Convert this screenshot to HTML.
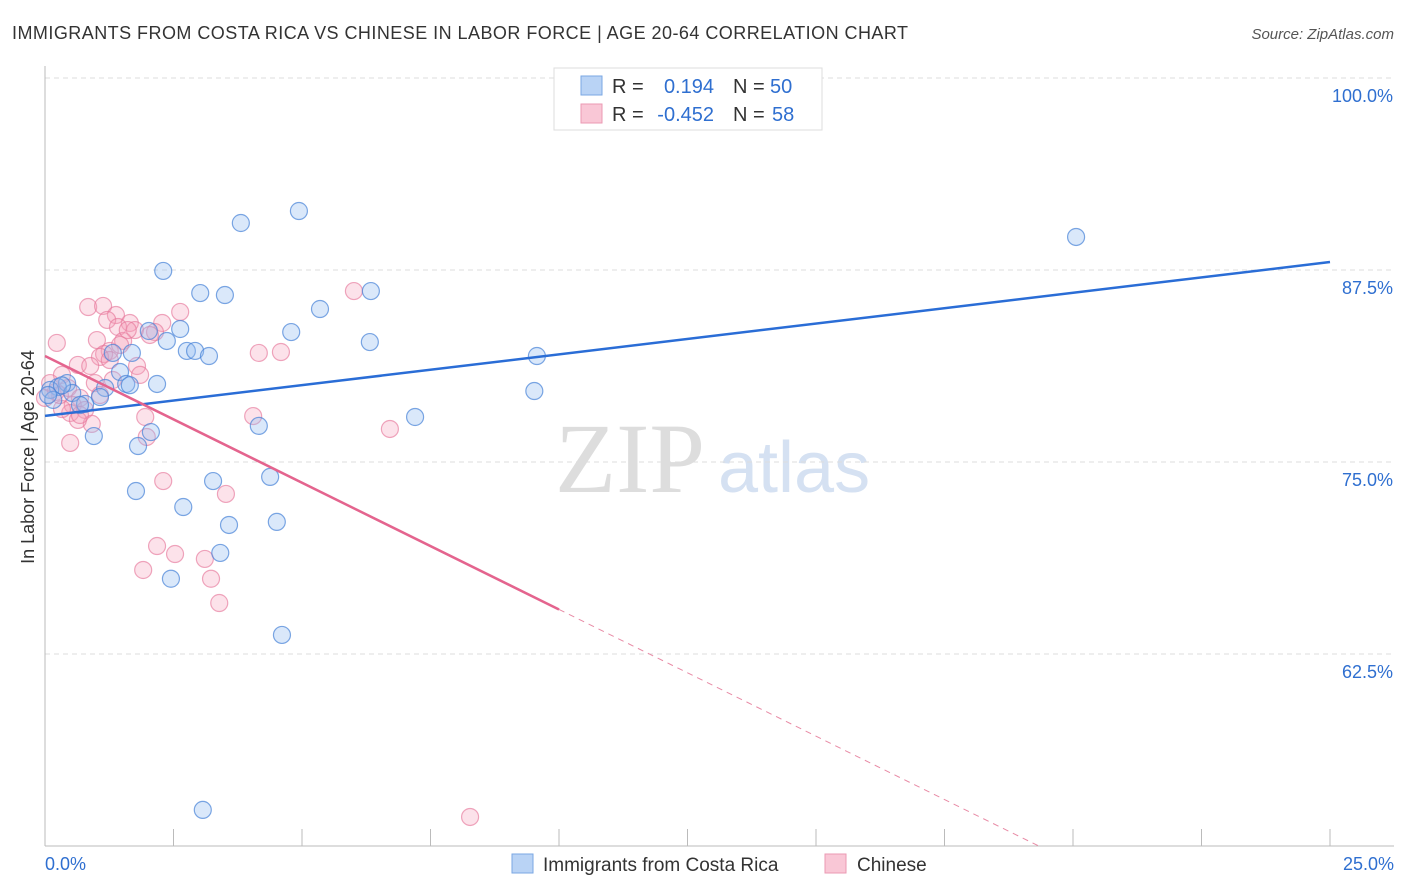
<!DOCTYPE html>
<html><head><meta charset="utf-8"><style>
body{margin:0;background:#fff;font-family:"Liberation Sans",sans-serif;}
svg{display:block}
</style></head><body>
<svg id="chart" width="1406" height="892">
<text x="12" y="39" font-size="18" fill="#333" textLength="896" lengthAdjust="spacing">IMMIGRANTS FROM COSTA RICA VS CHINESE IN LABOR FORCE | AGE 20-64 CORRELATION CHART</text>
<text x="1394" y="39" font-size="15" fill="#555" font-style="italic" text-anchor="end">Source: ZipAtlas.com</text>
<text x="555" y="492" font-size="100" fill="#ddd" font-family="Liberation Serif,serif">ZIP</text>
<text x="718" y="492" font-size="72" fill="#d5e1f2">atlas</text>
<g id="grid"></g><g id="axes"></g><g id="marks"></g>
<g>
<rect x="554" y="68" width="268" height="62" fill="#fff" stroke="#ddd"/>
<rect x="581" y="76" width="21" height="19" fill="#b9d3f5" stroke="#7aa7e3"/>
<rect x="581" y="104" width="21" height="19" fill="#f9c7d6" stroke="#eb9ab3"/>
<text x="612" y="93" font-size="20" fill="#333">R = </text><text x="714" y="93" font-size="20" fill="#2f6fd0" text-anchor="end">0.194</text>
<text x="733" y="93" font-size="20" fill="#333">N = </text><text x="770" y="93" font-size="20" fill="#2f6fd0">50</text>
<text x="612" y="121" font-size="20" fill="#333">R = </text><text x="714" y="121" font-size="20" fill="#2f6fd0" text-anchor="end">-0.452</text>
<text x="733" y="121" font-size="20" fill="#333">N = </text><text x="772" y="121" font-size="20" fill="#2f6fd0">58</text>
</g>
<g>
<rect x="512" y="854" width="21" height="19" fill="#b9d3f5" stroke="#7aa7e3"/>
<text x="543" y="871" font-size="19" fill="#333">Immigrants from Costa Rica</text>
<rect x="825" y="854" width="21" height="19" fill="#f9c7d6" stroke="#eb9ab3"/>
<text x="857" y="871" font-size="19" fill="#333">Chinese</text>
</g>
<text transform="translate(34,457) rotate(-90)" font-size="18" fill="#333" text-anchor="middle">In Labor Force | Age 20-64</text>
</svg>
<script>
const blueX=[3.81,4.94,20.06,2.30,3.02,3.50,6.34,5.35,4.79,2.63,2.02,2.37,6.32,2.76,2.92,3.19,9.57,1.32,1.69,1.46,1.58,2.18,1.17,0.43,0.25,0.10,0.53,1.07,0.78,9.52,7.20,4.16,2.06,0.95,1.81,4.38,1.77,3.27,2.69,3.58,4.51,3.41,2.45,4.61,3.07,0.16,0.33,0.06,0.68,1.65];
const blueY=[90.56,91.34,89.65,87.44,86.0,85.87,86.13,84.96,83.46,83.66,83.53,82.88,82.81,82.23,82.23,81.90,81.90,82.1,82.1,80.86,80.08,80.08,79.82,80.14,79.88,79.69,79.49,79.23,78.78,79.62,77.93,77.35,76.95,76.69,76.04,74.03,73.11,73.76,72.07,70.9,71.1,69.08,67.4,63.74,52.35,79.04,79.99,79.36,78.71,80.0];
const pinkX=[0.84,1.13,0.23,2.63,1.38,1.21,1.65,2.28,1.42,1.75,2.14,1.01,1.52,1.26,1.15,1.07,1.46,4.16,4.59,6.01,0.64,0.88,0.33,1.79,1.85,0.97,0.45,0.21,0.68,0.54,0.49,0.78,0.91,1.95,4.05,6.71,1.98,0.49,2.30,3.52,2.18,2.53,3.11,1.91,3.23,3.39,8.27,0.33,0.64,1.26,1.61,2.04,0.29,0.0,0.10,1.07,1.32,0.68];
const pinkY=[85.09,85.16,82.75,84.77,84.57,84.25,84.05,84.05,83.79,83.59,83.46,82.94,82.88,82.23,82.03,81.84,82.62,82.1,82.16,86.13,81.32,81.25,80.67,81.25,80.67,80.14,79.82,79.56,79.17,78.71,78.19,78.39,77.48,77.93,77.99,77.15,76.63,76.24,73.76,72.92,69.53,69.01,68.69,67.97,67.4,65.82,51.89,78.45,77.74,81.64,83.59,83.27,79.36,79.17,80.14,79.36,80.34,78.06];
const yTicks=[100,87.5,75,62.5];
const yTickLabels=["100.0%","87.5%","75.0%","62.5%"];
const xTicks=[0,2.5,5,7.5,10,12.5,15,17.5,20,22.5,25];
const blueTrend=[78.0,88.02]; // y at x=0 and x=25
const pinkTrend=[81.9,-1.65]; // intercept, slope
const pinkSolidEnd=10.0;
const pinkDashEnd=19.36;

const NS="http://www.w3.org/2000/svg";
const sx=v=>45+v/25*1285;
const sy=v=>78+(100-v)/12.5*192;
function mk(tag,attrs,parent){const e=document.createElementNS(NS,tag);for(const k in attrs)e.setAttribute(k,attrs[k]);parent.appendChild(e);return e;}
const grid=document.getElementById('grid'),axes=document.getElementById('axes'),marks=document.getElementById('marks');
yTicks.forEach((t,i)=>{
  const l=mk('line',{x1:45,x2:1394,y1:sy(t),y2:sy(t),stroke:'#ddd','stroke-dasharray':'5,4'},grid);
  
  
  const tx=mk('text',{x:1393,y:sy(t)+24,'font-size':18,fill:'#2f6fd0','text-anchor':'end'},axes);
  tx.textContent=yTickLabels[i];
  
  
});
const ya=mk('line',{x1:45,x2:45,y1:66,y2:846,stroke:'#bbb'},axes);


const xa=mk('line',{x1:45,x2:1394,y1:846,y2:846,stroke:'#bbb'},axes);


xTicks.forEach(t=>{
  const l=mk('line',{x1:sx(t),x2:sx(t),y1:829,y2:846,stroke:'#bbb'},axes);
  
  
});
const xl0=mk('text',{x:45,y:870,'font-size':18,fill:'#2f6fd0'},axes);xl0.textContent=xTicks[0].toFixed(1)+'%';


const xl1=mk('text',{x:1394,y:870,'font-size':18,fill:'#2f6fd0','text-anchor':'end'},axes);xl1.textContent=xTicks[xTicks.length-1].toFixed(1)+'%';



pinkX.forEach((x,i)=>{
  const c=mk('circle',{cx:sx(x),cy:sy(pinkY[i]),r:8.5,fill:'rgba(244,160,185,0.3)',stroke:'rgba(230,120,155,0.65)','stroke-width':1.2},marks);
  
  
});
blueX.forEach((x,i)=>{
  const c=mk('circle',{cx:sx(x),cy:sy(blueY[i]),r:8.5,fill:'rgba(150,190,240,0.35)',stroke:'rgba(70,130,215,0.7)','stroke-width':1.2},marks);
  
  
});
const bt=mk('line',{x1:sx(0),y1:sy(blueTrend[0]),x2:sx(25),y2:sy(blueTrend[1]),stroke:'#2a6dd6','stroke-width':2.5},marks);


const pt=mk('line',{x1:sx(0),y1:sy(pinkTrend[0]),x2:sx(pinkSolidEnd),y2:sy(pinkTrend[0]+pinkTrend[1]*pinkSolidEnd),stroke:'#e4648e','stroke-width':2.5},marks);


const pd=mk('line',{x1:sx(pinkSolidEnd),y1:sy(pinkTrend[0]+pinkTrend[1]*pinkSolidEnd),x2:sx(pinkDashEnd),y2:sy(pinkTrend[0]+pinkTrend[1]*pinkDashEnd),stroke:'#e88aa5','stroke-width':1,'stroke-dasharray':'6,5'},marks);


</script>
</body></html>
